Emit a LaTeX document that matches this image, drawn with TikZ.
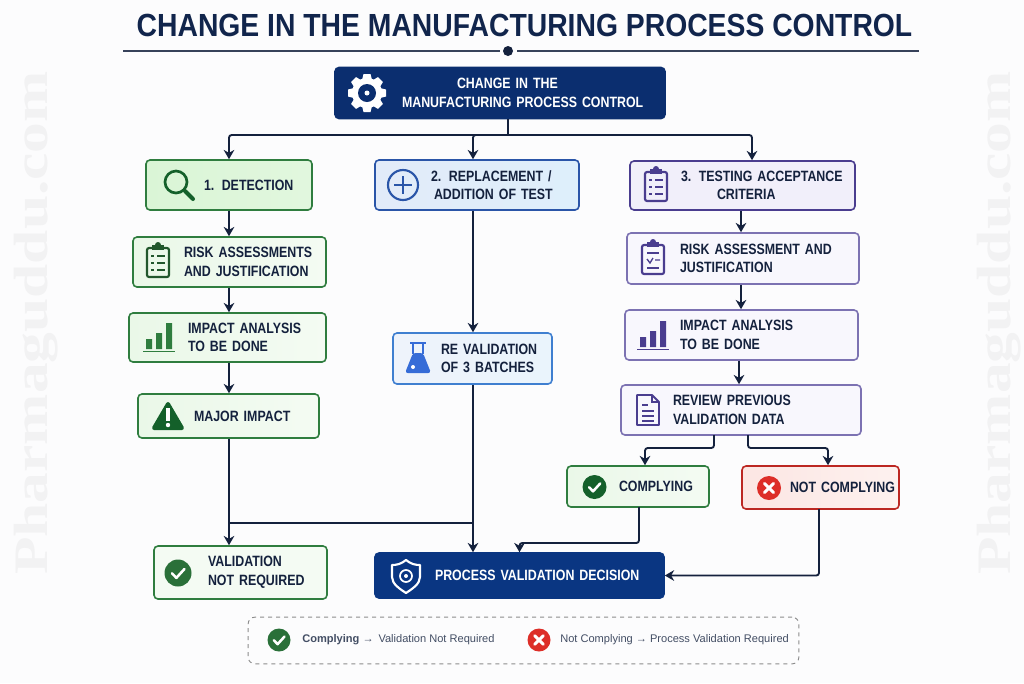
\documentclass[tikz,border=0pt]{standalone}
\usepackage{fontspec}
\usetikzlibrary{arrows.meta}
\setmainfont{Liberation Sans}
\newfontfamily\boxfont[FakeStretch=.83,WordSpace=.7]{Liberation Sans}
\newfontfamily\titlefont[FakeStretch=.885]{Liberation Sans}
\newfontfamily\markfont[FakeStretch=1.28]{Liberation Serif}
\newcommand{\lpad}[1]{\hspace*{#1}}

\begin{document}
\begin{tikzpicture}[x=.75pt, y=-.75pt]
  \definecolor{navy}{HTML}{0B2E6F}
  \definecolor{royal}{HTML}{0A3682}
  \definecolor{ink}{HTML}{14213D}
  \definecolor{leaf}{HTML}{2F7D3F}
  \definecolor{darkleaf}{HTML}{14602A}
  \definecolor{plum}{HTML}{4A3D8F}
  \definecolor{softplum}{HTML}{7C72B2}
  \definecolor{sea}{HTML}{2A55A8}
  \definecolor{sky}{HTML}{3F7FD0}
  \definecolor{alarm}{HTML}{DD2E28}
  \definecolor{paper}{HTML}{FCFCFD}
  \definecolor{mark}{HTML}{F2F2F3}
  \definecolor{mintA}{HTML}{DAF5D6}
  \definecolor{mintB}{HTML}{EAF8E8}
  \definecolor{mintC}{HTML}{F4FBF3}
  \definecolor{iceA}{HTML}{E2EBF9}
  \definecolor{iceB}{HTML}{DEEFFB}
  \definecolor{iceC}{HTML}{EEF3FB}
  \definecolor{iceD}{HTML}{EAF4FC}
  \definecolor{lilacA}{HTML}{F1EFFA}
  \definecolor{lilacB}{HTML}{F8F7FD}
  \definecolor{roseA}{HTML}{FCE6E3}
  \definecolor{roseB}{HTML}{FDF1EF}

  \tikzstyle{wd}=[text width=#1*.75pt, inner xsep=0pt]
  \tikzstyle{ht}=[minimum height=#1*.75pt, inner ysep=0pt]
  \tikzstyle{card}=[draw, rounded corners=3pt, line width=1.2pt, align=left, text=ink,
    font=\boxfont\bfseries\fontsize{11.2}{13.9}\selectfont]
  \tikzstyle{greencard}=[card, draw=leaf, left color=mintB, right color=mintC]
  \tikzstyle{plumcard}=[card, draw=softplum, fill=lilacB]
  \tikzstyle{navycard}=[card, draw=navy, fill=navy, text=white]
  \tikzstyle{link}=[draw=ink, line width=1.4pt, rounded corners=2pt]
  \tikzstyle{flow}=[link, -{Stealth[length=7pt, width=8pt]}]
  \tikzstyle{markstyle}=[rotate=90, text=mark, font=\markfont\bfseries\fontsize{36}{36}\selectfont]
  \tikzstyle{legendtext}=[inner sep=0pt, anchor=west, text=ink!80!white, font=\fontsize{8.3}{10}\selectfont]

  \tikzset{
    pics/okmark/.style={code={
      \fill[#1] (0,0) circle (1);
      \draw[white, line width=1.9pt, line cap=round, line join=round]
        (-.45,.02) -- (-.12,.36) -- (.48,-.3);}},
    pics/nomark/.style={code={
      \fill[#1] (0,0) circle (1);
      \draw[white, line width=2.2pt, line cap=round] (-.38,-.38) -- (.38,.38) (-.38,.38) -- (.38,-.38);}},
    pics/clipboard/.style={code={
      \draw[#1, line width=1.6pt, rounded corners=1.5pt] (-11,-13) rectangle (11,16);
      \fill[#1] (-6,-16) rectangle (6,-11);
      \fill[#1] (0,-16) circle (3);
      \foreach \y in {-5,2,9}{
        \draw[#1, line width=1pt] (-7,\y) -- (-4,\y) (-1,\y) -- (7,\y);}
    }},
    pics/clipcheck/.style={code={
      \draw[#1, line width=1.6pt, rounded corners=1.5pt] (-11,-13) rectangle (11,16);
      \fill[#1] (-6,-16) rectangle (6,-11);
      \fill[#1] (0,-16) circle (3);
      \draw[#1, line width=1pt] (-6,-5) -- (6,-5) (-6,10) -- (6,10);
      \draw[#1, line width=1pt] (-6,1) -- (-3,5) -- (0,0) (2,2) -- (7,2);
    }},
    pics/bars/.style={code={
      \fill[#1] (-13,1) rectangle (-7,11) (-3,-5) rectangle (3,11) (7,-15) rectangle (13,11);
      \draw[#1, line width=1.1pt] (-16,13.5) -- (16,13.5);
    }}
  }

  % page and watermark
  \fill[paper] (0,0) rectangle (1024,683);
  \useasboundingbox (0,0) rectangle (1024,683);
  \node[markstyle] (markL) at (36,323) {Pharmaguddu.com};
  \node[markstyle] (markR) at (999,323) {Pharmaguddu.com};

  % title
  \node[text=ink!70!navy, font=\titlefont\bfseries\fontsize{24}{24}\selectfont] (title) at (524.5,25) {CHANGE IN THE MANUFACTURING PROCESS CONTROL};
  \coordinate (ruleL) at (123,51);
  \coordinate (ruleR) at (919,51);
  \node[circle, fill=ink, inner sep=0pt, minimum size=7.5pt] (dot) at (508,51) {};
  \draw[ink!85!white, line width=.9pt] (ruleL) -- (500,51) (517,51) -- (ruleR);

  % boxes
  \node[navycard, wd=330, ht=51] (top) at (500,93) {\lpad{91.5pt}CHANGE IN THE\\\lpad{50.25pt}MANUFACTURING PROCESS CONTROL};

  \node[greencard, left color=mintA, right color=mintA!80!white, wd=166, ht=50] (detect) at (229,185) {\lpad{43.5pt}1. DETECTION};
  \node[greencard, wd=193, ht=50] (riskA) at (229.5,262) {\lpad{38.25pt}RISK ASSESSMENTS\\\lpad{38.25pt}AND JUSTIFICATION};
  \node[greencard, wd=197, ht=49] (impactA) at (227.5,337.5) {\lpad{44.25pt}IMPACT ANALYSIS\\\lpad{44.25pt}TO BE DONE};
  \node[greencard, wd=181, ht=44] (major) at (228.5,416) {\lpad{42pt}MAJOR IMPACT};
  \node[greencard, left color=mintC, wd=173, ht=53] (valid) at (240.5,572.5) {\lpad{40.5pt}VALIDATION\\\lpad{40.5pt}NOT REQUIRED};

  \node[card, draw=sea, left color=iceA, right color=iceB, wd=204, ht=50] (repl) at (477,185) {\lpad{42pt}2. REPLACEMENT /\\\lpad{44.25pt}ADDITION OF TEST};
  \node[card, draw=sky, left color=iceC, right color=iceD, wd=159, ht=51] (reval) at (472.5,358.5) {\lpad{36pt}RE VALIDATION\\\lpad{36pt}OF 3 BATCHES};
  \node[navycard, draw=royal, fill=royal, wd=289, ht=45] (decision) at (519.5,575.5) {\lpad{45pt}PROCESS VALIDATION DECISION};

  \node[plumcard, fill=lilacA, draw=plum, wd=225, ht=49] (test) at (742.5,185.5) {\lpad{38.25pt}3. TESTING ACCEPTANCE\\\lpad{65.25pt}CRITERIA};
  \node[plumcard, wd=232, ht=51] (riskB) at (743,258.5) {\lpad{39.75pt}RISK ASSESSMENT AND\\\lpad{39.75pt}JUSTIFICATION};
  \node[plumcard, wd=233, ht=50] (impactB) at (741.5,335) {\lpad{41.25pt}IMPACT ANALYSIS\\\lpad{41.25pt}TO BE DONE};
  \node[plumcard, wd=240, ht=50] (review) at (741,410) {\lpad{39pt}REVIEW PREVIOUS\\\lpad{39pt}VALIDATION DATA};

  \node[greencard, wd=142, ht=41] (comply) at (638,486.5) {\lpad{39pt}COMPLYING};
  \node[card, draw=alarm!85!black, left color=roseA, right color=roseB, wd=157, ht=43] (notc) at (820.5,487.5) {\lpad{36pt}NOT COMPLYING};

  % connectors
  \coordinate (stem) at (508,135);
  \coordinate (midx) at (473,135);
  \coordinate (rightx) at (752,135);
  \coordinate (leftx) at (229,0);
  \coordinate (testx) at (741,0);
  \coordinate (impx) at (739,0);
  \coordinate (branch) at (229,523);
  \coordinate (join) at (473,523);

  \draw[link] (top.south -| stem) -- (stem);
  \draw[flow] (stem) -| (detect.north);
  \draw[flow] (stem) -| (repl.north -| midx);
  \draw[flow] (stem) -| (test.north -| rightx);

  \draw[flow] (detect.south -| leftx) -- (riskA.north -| leftx);
  \draw[flow] (riskA.south -| leftx) -- (impactA.north -| leftx);
  \draw[flow] (impactA.south -| leftx) -- (major.north -| leftx);
  \draw[flow] (major.south -| leftx) -- (valid.north -| leftx);
  \draw[link] (branch) -- (join);

  \draw[flow] (repl.south -| midx) -- (reval.north -| midx);
  \draw[flow] (reval.south -| midx) -- (decision.north -| midx);

  \draw[flow] (test.south -| testx) -- (riskB.north -| testx);
  \draw[flow] (riskB.south -| testx) -- (impactB.north -| testx);
  \draw[flow] (impactB.south -| impx) -- (review.north -| impx);

  \coordinate (revL) at (714,435);
  \coordinate (revR) at (748,435);
  \coordinate (compx) at (645,448);
  \coordinate (notx) at (828,448);
  \draw[flow] (revL) |- (compx) -- (compx |- comply.north);
  \draw[flow] (revR) |- (notx) -- (notx |- notc.north);
  \coordinate (compout) at (639,507);
  \coordinate (compturn) at (639,543);
  \draw[flow] (compout) -- (compturn) -| (decision.north);
  \coordinate (notout) at (819,509);
  \draw[flow] (notout) |- (decision.east);

  % icons
  \begin{scope}[shift={(367,93)}]
    \foreach \a in {0,45,...,315}{
      \fill[white, rotate=\a] (-3.5,-19) -- (3.5,-19) -- (5.5,-11) -- (-5.5,-11) -- cycle;}
    \fill[white] (0,0) circle (15);
    \fill[navy] (0,0) circle (9);
    \fill[white] (0,0) circle (2.5);
  \end{scope}

  \draw[darkleaf, line width=2pt] (176,182) circle (11);
  \draw[darkleaf, line width=3pt, line cap=round] (185,191) -- (193,199);

  \draw[sea, line width=1.6pt] (403,185) circle (15);
  \draw[sea, line width=1.6pt] (394,185) -- (412,185) (403,176) -- (403,194);

  \pic at (158,261) {clipboard=leaf!70!black};
  \pic at (159,338) {bars=leaf};

  \begin{scope}[shift={(168,416)}]
    \draw[darkleaf, fill=darkleaf, line width=3pt, line join=round] (0,-12) -- (14,12) -- (-14,12) -- cycle;
    \fill[white] (-1.7,-8) rectangle (1.7,5);
    \fill[white] (0,9) circle (2.2);
  \end{scope}

  \pic[scale=13.5] at (178,573) {okmark=leaf!90!black};

  \begin{scope}[shift={(418,358)}]
    \draw[sky!85!blue, line width=1.3pt] (-8,-15) -- (8,-15) (-5,-15) -- (-5,-4) (5,-15) -- (5,-4);
    \fill[sky!85!blue, rounded corners=2pt] (-5,-5) -- (5,-5) -- (13,15) -- (-13,15) -- cycle;
    \fill[white] (-5,9) circle (2);
  \end{scope}

  \begin{scope}[shift={(406,576)}]
    \draw[white, line width=1.6pt, line join=round] (0,-16) .. controls (5,-12) and (9,-11) .. (14,-11) -- (14,1) .. controls (14,8) and (6,13) .. (0,17) .. controls (-6,13) and (-14,8) .. (-14,1) -- (-14,-11) .. controls (-9,-11) and (-5,-12) .. cycle;
    \draw[white, line width=1.3pt] (0,0) circle (6);
    \fill[white] (0,0) circle (2);
  \end{scope}

  \pic at (656,185) {clipboard=plum};
  \pic at (653,258) {clipcheck=plum};
  \pic at (653,336) {bars=plum};

  \begin{scope}[shift={(648,410)}]
    \draw[plum, line width=1.4pt, line join=round] (-11,-15) -- (4,-15) -- (11,-8) -- (11,15) -- (-11,15) -- cycle;
    \draw[plum, line width=1pt] (4,-15) -- (4,-8) -- (11,-8);
    \draw[plum, line width=1.1pt] (-6,-5) -- (0,-5) (-6,1) -- (6,1) (-6,6) -- (6,6) (-6,11) -- (6,11);
  \end{scope}

  \pic[scale=12] at (594.5,487) {okmark=darkleaf};
  \pic[scale=12] at (769,488) {nomark=alarm};

  % legend
  \node[draw=black!45, dashed, rounded corners=5pt, line width=.7pt, minimum width=413pt, minimum height=35pt] (legend) at (523.5,640.5) {};
  \pic[scale=11.5] at (279,640) {okmark=leaf!90!black};
  \pic[scale=11.5] at (539,640) {nomark=alarm};
  \node[legendtext] (legA) at (302,640) {\textbf{Complying} → \,Validation Not Required};
  \node[legendtext] (legB) at (560,640) {Not Complying → Process Validation Required};
\end{tikzpicture}
\end{document}
